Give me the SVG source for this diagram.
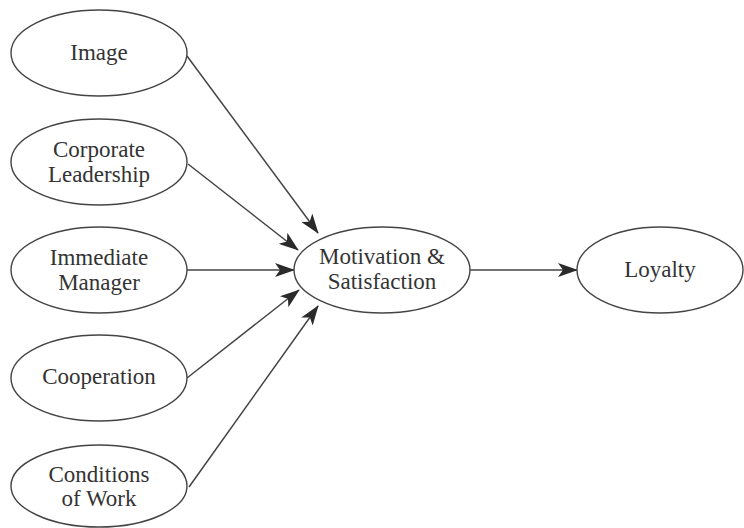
<svg xmlns="http://www.w3.org/2000/svg" width="744" height="528" viewBox="0 0 744 528">
<style>
.n ellipse{fill:#fff;stroke:#444;stroke-width:1.4}
.n text{font-family:"Liberation Serif","Times New Roman",serif;font-size:23px;fill:#333;text-anchor:middle}
.c line{stroke:#444;stroke-width:1.5;marker-end:url(#ah)}
</style>
<defs>
<marker id="ah" viewBox="0 0 20 14" refX="19" refY="7" markerWidth="20" markerHeight="14" markerUnits="userSpaceOnUse" orient="auto">
<path d="M0,0 L20,7 L0,14 L5,7 Z" fill="#2a2a2a"/>
</marker>
</defs>
<rect width="744" height="528" fill="#fff"/>
<g class="c">
<line x1="187" y1="56" x2="318" y2="233"/>
<line x1="188" y1="164" x2="298" y2="250"/>
<line x1="187" y1="270" x2="294" y2="270"/>
<line x1="187" y1="378" x2="299" y2="290"/>
<line x1="189" y1="487" x2="318" y2="306"/>
<line x1="470" y1="270" x2="577" y2="270"/>
</g>
<g class="n" id="image"><ellipse cx="99" cy="53" rx="88" ry="43"/><text x="99" y="60">Image</text></g>
<g class="n" id="corporate"><ellipse cx="99" cy="162" rx="88" ry="43"/><text x="99" y="157">Corporate</text><text x="99" y="182">Leadership</text></g>
<g class="n" id="manager"><ellipse cx="99" cy="270" rx="88" ry="43"/><text x="99" y="265">Immediate</text><text x="99" y="290">Manager</text></g>
<g class="n" id="cooperation"><ellipse cx="99" cy="378" rx="88" ry="43"/><text x="99" y="384">Cooperation</text></g>
<g class="n" id="conditions"><ellipse cx="99" cy="486" rx="88" ry="41"/><text x="99" y="482">Conditions</text><text x="99" y="506">of Work</text></g>
<g class="n" id="motivation"><ellipse cx="382" cy="270" rx="88" ry="43"/><text x="382" y="264">Motivation &amp;</text><text x="382" y="289">Satisfaction</text></g>
<g class="n" id="loyalty"><ellipse cx="660" cy="270" rx="83" ry="43"/><text x="660" y="277">Loyalty</text></g>
</svg>
